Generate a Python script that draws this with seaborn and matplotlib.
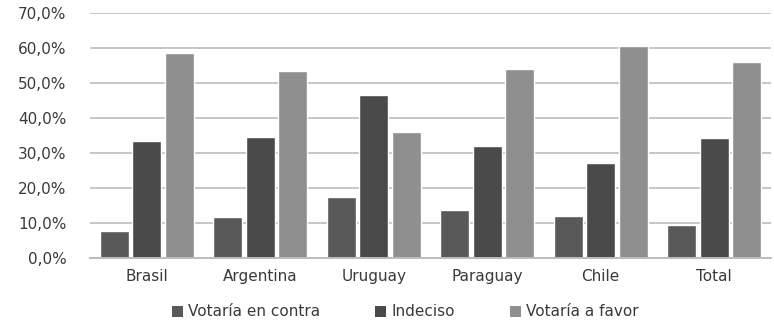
import matplotlib
matplotlib.use("Agg")
import matplotlib.pyplot as plt
import seaborn as sns
import pandas as pd
from matplotlib.ticker import FuncFormatter
from matplotlib.patches import Patch

# Survey results per country
countries = ["Brasil", "Argentina", "Uruguay", "Paraguay", "Chile", "Total"]
series_names = ["Votaría en contra", "Indeciso", "Votaría a favor"]
votaria_en_contra = [7.7, 11.7, 17.5, 13.7, 12.0, 9.4]
indeciso = [33.5, 34.6, 46.5, 32.0, 27.0, 34.2]
votaria_a_favor = [58.7, 53.6, 35.9, 54.1, 60.7, 56.0]
y_ticks = [0, 10, 20, 30, 40, 50, 60, 70]

colors = ["#595959", "#4a4a4a", "#8f8f8f"]
text_color = "#3a3a3a"

rows = []
for name, vals in zip(series_names, [votaria_en_contra, indeciso, votaria_a_favor]):
    for c, v in zip(countries, vals):
        rows.append({"País": c, "Serie": name, "Valor": v})
df = pd.DataFrame(rows)

sns.set_theme(style="white")
plt.rcParams["font.family"] = ["DejaVu Sans"]

fig = plt.figure(figsize=(7.74, 3.29), dpi=100)
ax = fig.add_axes([90 / 774, 1 - 257.7 / 329, (771 - 90) / 774, (257.7 - 13.3) / 329])

sns.barplot(data=df, x="País", y="Valor", hue="Serie", order=countries,
            hue_order=series_names, palette=colors, width=0.86, gap=0.12,
            saturation=1, ax=ax, legend=False)

ax.set_ylim(0, 70)
ax.set_yticks(y_ticks)
ax.yaxis.set_major_formatter(FuncFormatter(lambda v, p: f"{v:.1f}%".replace(".", ",")))
ax.grid(axis="y", color="#c6c6c6", linewidth=1.4)
ax.set_axisbelow(True)
for s in ["top", "right", "left"]:
    ax.spines[s].set_visible(False)
ax.spines["bottom"].set_color("#bcbcbc")
ax.spines["bottom"].set_linewidth(1.4)
ax.tick_params(axis="both", length=0, labelsize=11, colors=text_color)
ax.tick_params(axis="y", pad=17)
ax.tick_params(axis="x", pad=8)
ax.set_xlabel("")
ax.set_ylabel("")

handles = [Patch(facecolor=c, edgecolor="none") for c in colors]
fig.legend(handles, series_names, loc="center", bbox_to_anchor=(405 / 774, 1 - 312 / 329),
           ncol=3, frameon=False, fontsize=11, handlelength=0.75, handleheight=0.75,
           handletextpad=0.3, columnspacing=3.6, labelcolor=text_color)

fig.savefig("out.png", dpi=100)
